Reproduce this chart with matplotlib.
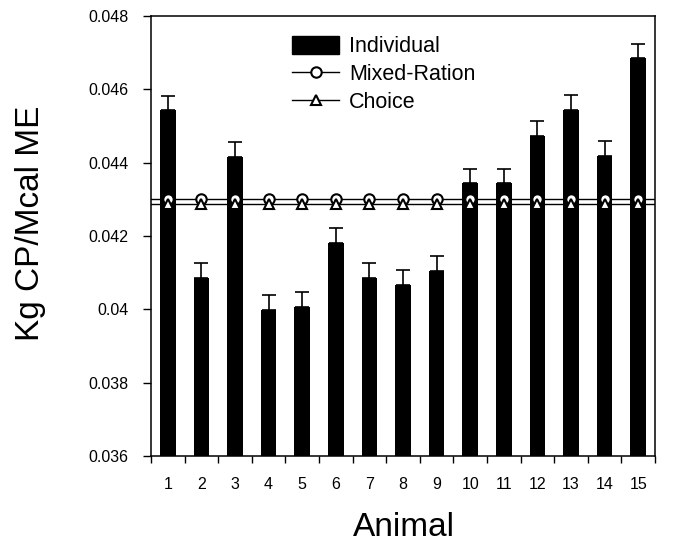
import matplotlib
matplotlib.use("Agg")
import matplotlib.pyplot as plt
from matplotlib.lines import Line2D
from matplotlib.patches import Patch
import numpy as np

plt.rcParams['font.family'] = ['Liberation Sans', 'DejaVu Sans']

animals = ['1', '2', '3', '4', '5', '6', '7', '8', '9', '10', '11', '12', '13', '14', '15']
individual = [0.04543, 0.04086, 0.04416, 0.03999, 0.04006, 0.04182, 0.04086, 0.04066,
              0.04104, 0.04345, 0.04345, 0.04474, 0.04545, 0.04419, 0.04685]
individual_se = [0.00038, 0.00040, 0.00040, 0.00040, 0.00040, 0.00040, 0.00040, 0.00040,
                 0.00041, 0.00039, 0.00039, 0.00040, 0.00039, 0.00041, 0.00039]
mixed_ration = 0.04300
choice = 0.04288
y_ticks = [0.036, 0.038, 0.040, 0.042, 0.044, 0.046, 0.048]
y_ticklabels = ['0.036', '0.038', '0.04', '0.042', '0.044', '0.046', '0.048']

fig = plt.figure(figsize=(6.85, 5.5), dpi=100)
ax = fig.add_axes([151/685, 1-456/550, (655-151)/685, (456-16)/550])

x = np.arange(1, len(animals) + 1)
ax.bar(x, individual, width=0.47, color='black', zorder=2)
ax.errorbar(x, individual, yerr=[np.zeros(len(x)), individual_se], fmt='none',
            ecolor='black', elinewidth=1.2, capsize=5, capthick=1.2, zorder=2)

ax.axhline(mixed_ration, color='black', lw=1.0, zorder=3)
ax.axhline(choice, color='black', lw=1.0, zorder=3)
ax.plot(x, [mixed_ration] * len(x), ls='none', marker='o', ms=7.5, mfc='white',
        mec='black', mew=1.5, zorder=4)
ax.plot(x, [choice] * len(x), ls='none', marker='^', ms=7.5, mfc='white',
        mec='black', mew=1.5, zorder=5)

ax.set_xlim(0.5, len(x) + 0.5)
ax.set_ylim(0.036, 0.048)
ax.set_yticks(y_ticks)
ax.set_yticklabels(y_ticklabels, fontsize=11.5)
ax.set_xticks(np.arange(0.5, len(x) + 1, 1.0))
ax.set_xticklabels([])
ax.set_xticks(x, minor=True)
ax.set_xticklabels(animals, minor=True, fontsize=11.5)
ax.tick_params(axis='x', which='major', direction='out', length=5, width=1.0)
ax.tick_params(axis='x', which='minor', length=0, pad=15)
ax.tick_params(axis='y', direction='out', length=6, width=1.0, pad=10)
for s in ax.spines.values():
    s.set_linewidth(1.1)

handles = [Patch(facecolor='black', edgecolor='black'),
           Line2D([], [], color='black', lw=1.0, marker='o', ms=7.5, mfc='white', mec='black', mew=1.5),
           Line2D([], [], color='black', lw=1.0, marker='^', ms=7.5, mfc='white', mec='black', mew=1.5)]
ax.legend(handles, ['Individual', 'Mixed-Ration', 'Choice'], loc='upper left',
          bbox_to_anchor=((292-151)/504, 1-(36-16)/440), frameon=False, fontsize=15.5,
          handlelength=2.2, handleheight=0.9, handletextpad=0.45, labelspacing=0.3,
          borderaxespad=0, borderpad=0)

fig.text(31/685, 1-223/550, 'Kg CP/Mcal ME', rotation=90, ha='center', va='center', fontsize=24)
fig.text(404/685, 1-527/550, 'Animal', ha='center', va='center', fontsize=24)

fig.savefig('out.png', dpi=100)
